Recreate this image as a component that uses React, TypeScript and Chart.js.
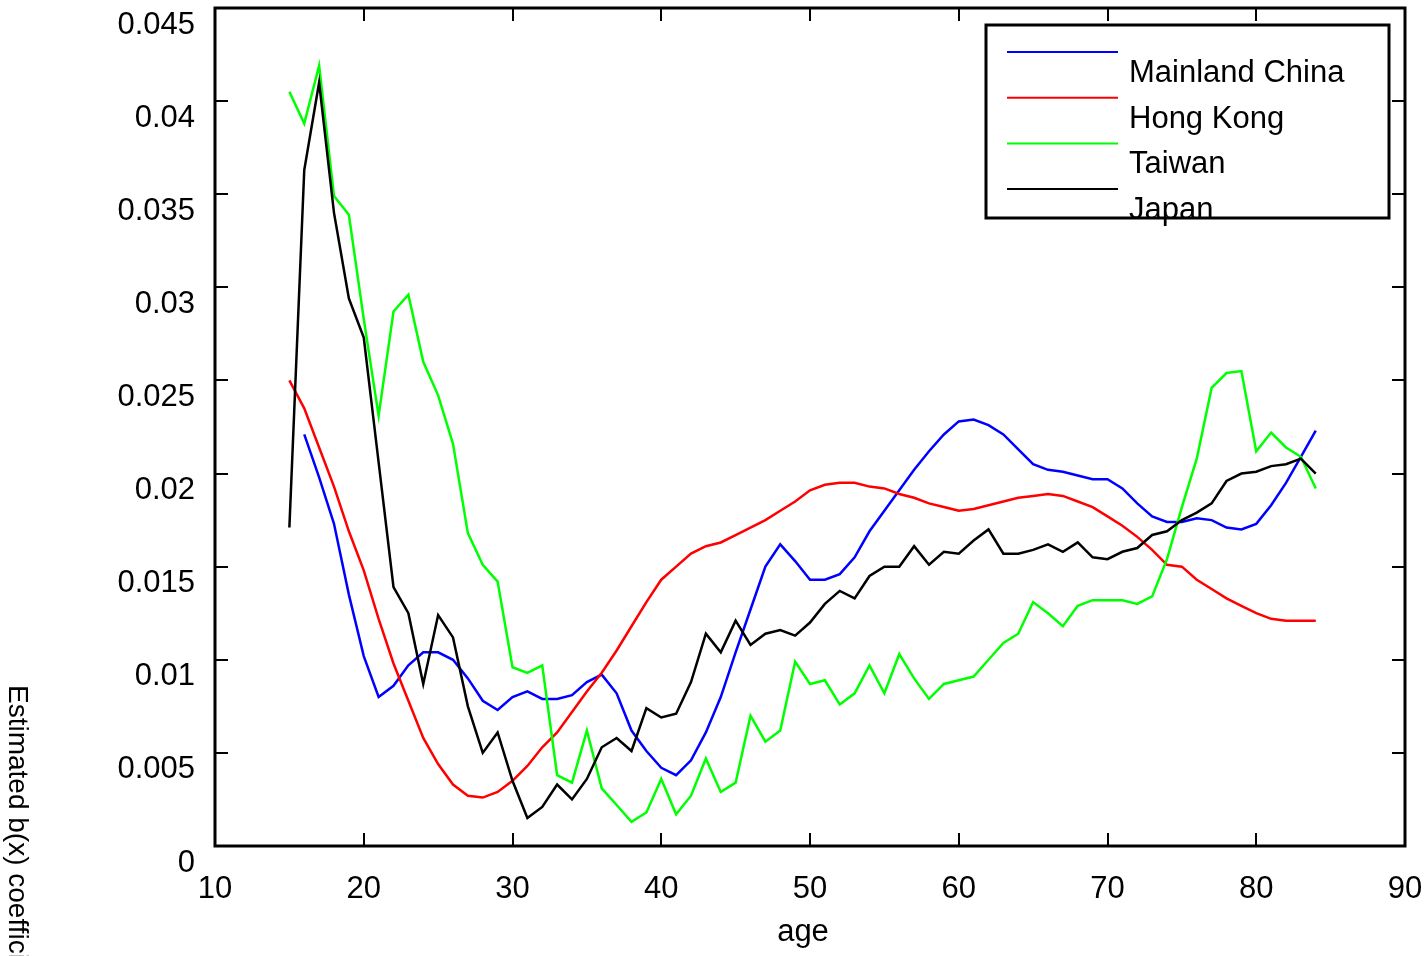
import React, { useEffect, useRef } from "react";
import { Chart, registerables } from "chart.js";

Chart.register(...registerables);

const ages = [15,16,17,18,19,20,21,22,23,24,25,26,27,28,29,30,31,32,33,34,35,36,37,38,39,40,41,42,43,44,45,46,47,48,49,50,51,52,53,54,55,56,57,58,59,60,61,62,63,64,65,66,67,68,69,70,71,72,73,74,75,76,77,78,79,80,81,82,83,84];

const mainlandChina = [null,0.0221,0.0198,0.0173,0.0135,0.0102,0.0080,0.0086,0.0097,0.0104,0.0104,0.0100,0.0090,0.0078,0.0073,0.0080,0.0083,0.0079,0.0079,0.0081,0.0088,0.0092,0.0082,0.0062,0.0051,0.0042,0.0038,0.0046,0.0061,0.0080,0.0104,0.0127,0.0150,0.0162,0.0153,0.0143,0.0143,0.0146,0.0155,0.0169,0.0180,0.0191,0.0202,0.0212,0.0221,0.0228,0.0229,0.0226,0.0221,0.0213,0.0205,0.0202,0.0201,0.0199,0.0197,0.0197,0.0192,0.0184,0.0177,0.0174,0.0174,0.0176,0.0175,0.0171,0.0170,0.0173,0.0183,0.0195,0.0209,0.0223];

const hongKong = [0.0250,0.0235,0.0214,0.0193,0.0169,0.0148,0.0122,0.0098,0.0078,0.0058,0.0044,0.0033,0.0027,0.0026,0.0029,0.0035,0.0043,0.0053,0.0061,0.0072,0.0083,0.0093,0.0105,0.0118,0.0131,0.0143,0.0150,0.0157,0.0161,0.0163,0.0167,0.0171,0.0175,0.0180,0.0185,0.0191,0.0194,0.0195,0.0195,0.0193,0.0192,0.0189,0.0187,0.0184,0.0182,0.0180,0.0181,0.0183,0.0185,0.0187,0.0188,0.0189,0.0188,0.0185,0.0182,0.0177,0.0172,0.0166,0.0159,0.0151,0.0150,0.0143,0.0138,0.0133,0.0129,0.0125,0.0122,0.0121,0.0121,0.0121];

const taiwan = [0.0405,0.0388,0.0419,0.0349,0.0339,0.0283,0.0231,0.0287,0.0296,0.0260,0.0242,0.0216,0.0168,0.0151,0.0142,0.0096,0.0093,0.0097,0.0038,0.0034,0.0062,0.0031,0.0022,0.0013,0.0018,0.0036,0.0017,0.0027,0.0047,0.0029,0.0034,0.0070,0.0056,0.0062,0.0099,0.0087,0.0089,0.0076,0.0082,0.0097,0.0082,0.0103,0.0090,0.0079,0.0087,0.0089,0.0091,0.0100,0.0109,0.0114,0.0131,0.0125,0.0118,0.0129,0.0132,0.0132,0.0132,0.0130,0.0134,0.0154,0.0182,0.0208,0.0246,0.0254,0.0255,0.0212,0.0222,0.0214,0.0209,0.0192];

const japan = [0.0171,0.0363,0.0410,0.0340,0.0294,0.0273,0.0206,0.0139,0.0125,0.0087,0.0124,0.0112,0.0075,0.0050,0.0061,0.0035,0.0015,0.0021,0.0033,0.0025,0.0036,0.0053,0.0058,0.0051,0.0074,0.0069,0.0071,0.0088,0.0114,0.0104,0.0121,0.0108,0.0114,0.0116,0.0113,0.0120,0.0130,0.0137,0.0133,0.0145,0.0150,0.0150,0.0161,0.0151,0.0158,0.0157,0.0164,0.0170,0.0157,0.0157,0.0159,0.0162,0.0158,0.0163,0.0155,0.0154,0.0158,0.0160,0.0167,0.0169,0.0175,0.0179,0.0184,0.0196,0.0200,0.0201,0.0204,0.0205,0.0208,0.0200];

const seriesNames = ["Mainland China", "Hong Kong", "Taiwan", "Japan"];
const seriesColors = ["#0000ff", "#ff0000", "#00ff00", "#000000"];
const seriesValues = [mainlandChina, hongKong, taiwan, japan];

const xMin = 10, xMax = 90, xStep = 10;
const yMin = 0, yMax = 0.045, yStep = 0.005;
const xTitle = "age";
const yTitle = "Estimated b(x) coefficients";

const FONT = "'Liberation Sans', Arial, Helvetica, sans-serif";
const TICK = 13;

const framePlugin = {
  id: "frame",
  afterDraw(chart: any) {
    const { ctx, chartArea: a, scales } = chart;
    const xs = scales.x, ys = scales.y;
    ctx.save();
    ctx.strokeStyle = "#000";
    ctx.lineWidth = 2;
    ctx.beginPath();
    xs.ticks.forEach((t: any) => {
      const px = Math.round(xs.getPixelForValue(t.value));
      ctx.moveTo(px, a.bottom); ctx.lineTo(px, a.bottom - TICK);
      ctx.moveTo(px, a.top); ctx.lineTo(px, a.top + TICK);
    });
    ys.ticks.forEach((t: any) => {
      const py = Math.round(ys.getPixelForValue(t.value));
      ctx.moveTo(a.left, py); ctx.lineTo(a.left + TICK, py);
      ctx.moveTo(a.right, py); ctx.lineTo(a.right - TICK, py);
    });
    ctx.stroke();
    ctx.lineWidth = 3;
    ctx.strokeRect(a.left, a.top, a.right - a.left, a.bottom - a.top);

    // legend
    const lx = a.right - 419, ly = a.top + 17, lw = 403, lh = 193;
    ctx.fillStyle = "#fff";
    ctx.fillRect(lx, ly, lw, lh);
    ctx.lineWidth = 3;
    ctx.strokeRect(lx, ly, lw, lh);
    ctx.font = `31px ${FONT}`;
    ctx.textAlign = "left";
    ctx.textBaseline = "alphabetic";
    seriesNames.forEach((name, i) => {
      const yy = ly + 27 + i * 45.7;
      ctx.strokeStyle = seriesColors[i];
      ctx.lineWidth = 2;
      ctx.beginPath();
      ctx.moveTo(lx + 21, yy);
      ctx.lineTo(lx + 132, yy);
      ctx.stroke();
      ctx.fillStyle = "#000";
      ctx.fillText(name, lx + 143, yy + 30);
    });

    // axis titles
    ctx.fillStyle = "#000";
    ctx.font = `31px ${FONT}`;
    ctx.textAlign = "center";
    ctx.textBaseline = "middle";
    ctx.fillText(xTitle, (a.left + a.right) / 2 - 7, 932);

    ctx.save();
    ctx.translate(9, 685);
    ctx.rotate(Math.PI / 2);
    ctx.font = `28px ${FONT}`;
    ctx.textAlign = "left";
    ctx.textBaseline = "alphabetic";
    ctx.fillText(yTitle, 0, 0);
    ctx.restore();
    ctx.restore();
  },
};

export default function App() {
  const ref = useRef<HTMLCanvasElement | null>(null);
  useEffect(() => {
    if (!ref.current) return;
    const chart = new Chart(ref.current, {
      type: "line",
      data: {
        datasets: seriesNames.map((name, i) => ({
          label: name,
          data: ages.map((a, j) => ({ x: a, y: seriesValues[i][j] })),
          borderColor: seriesColors[i],
          backgroundColor: seriesColors[i],
          borderWidth: 2.5,
          pointRadius: 0,
          tension: 0,
          fill: false,
          order: 3 - i,
        })),
      },
      options: {
        responsive: false,
        animation: false,
        events: [],
        layout: { padding: { top: 8, right: 21, left: 0, bottom: 0 } },
        plugins: { legend: { display: false }, tooltip: { enabled: false } },
        scales: {
          x: {
            type: "linear",
            min: xMin,
            max: xMax,
            grid: { display: false, drawTicks: false },
            border: { display: false },
            ticks: {
              stepSize: xStep,
              padding: 25,
              maxRotation: 0,
              color: "#000",
              font: { size: 31, family: FONT },
            },
            afterFit: (s: any) => {
              s.height = 110;
              s.paddingLeft = 0; s.paddingRight = 0; s.paddingTop = 0; s.paddingBottom = 0;
            },
          },
          y: {
            type: "linear",
            min: yMin,
            max: yMax,
            grid: { display: false, drawTicks: false },
            border: { display: false },
            ticks: {
              stepSize: yStep,
              padding: 20,
              labelOffset: 17,
              color: "#000",
              font: { size: 31, family: FONT },
              callback: (v: any) => String(+Number(v).toFixed(3)),
            },
            afterFit: (s: any) => {
              s.width = 215;
              s.paddingLeft = 0; s.paddingRight = 0; s.paddingTop = 0; s.paddingBottom = 0;
            },
          },
        },
      },
      plugins: [framePlugin],
    });
    return () => chart.destroy();
  }, []);
  return (
    <div style={{ position: "fixed", left: 0, top: 0, width: 1426, height: 956, background: "#fff" }}>
      <canvas ref={ref} width={1426} height={956} />
    </div>
  );
}
